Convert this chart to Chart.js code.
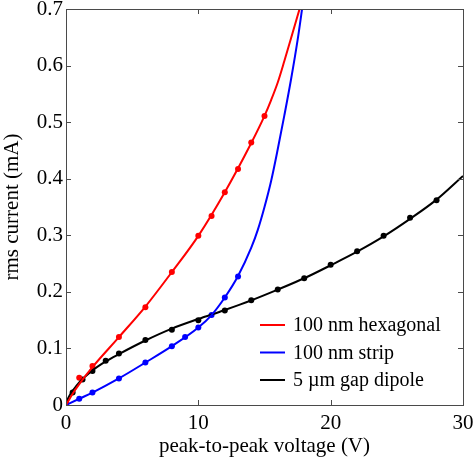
<!DOCTYPE html>
<html>
<head>
<meta charset="utf-8">
<script src="https://cdn.jsdelivr.net/npm/chart.js@4.4.1/dist/chart.umd.min.js"></script>
<style>
  html, body { margin: 0; padding: 0; background: #fff; }
  #wrap { width: 475px; height: 459px; }
</style>
</head>
<body>
<div id="wrap"><canvas id="grafico"></canvas></div>
<script>
// eixos
const xTicks = [0, 10, 20, 30];
const yTicks = [0, 0.1, 0.2, 0.3, 0.4, 0.5, 0.6, 0.7];

// 100 nm hexagonal - medidas
const hexX = [0, 1, 2, 4, 6, 8, 10, 11, 12, 13, 14, 15];
const hexY = [0.004, 0.048, 0.069, 0.12, 0.173, 0.235, 0.299, 0.334, 0.376, 0.417, 0.464, 0.511];
// 100 nm hexagonal - curva ajustada
const hexFitX = [0, 0.5, 1, 2, 4, 6, 8, 10, 12, 14, 15, 15.5, 16, 16.5, 17, 17.5, 17.8];
const hexFitY = [0, 0.02, 0.037, 0.067, 0.12, 0.174, 0.235, 0.299, 0.376, 0.463, 0.511, 0.539, 0.57, 0.608, 0.648, 0.688, 0.712];

// 100 nm strip - medidas
const stripX = [0, 1, 2, 4, 6, 8, 9, 10, 11, 12, 13];
const stripY = [0.002, 0.011, 0.022, 0.047, 0.075, 0.104, 0.12, 0.137, 0.159, 0.19, 0.227];
// 100 nm strip - curva ajustada
const stripFitX = [0, 1, 2, 4, 6, 8, 10, 11, 12, 13, 14, 14.5, 15, 15.5, 16, 16.5, 17, 17.5, 17.9];
const stripFitY = [0, 0.011, 0.022, 0.047, 0.075, 0.104, 0.137, 0.159, 0.19, 0.228, 0.278, 0.31, 0.35, 0.396, 0.452, 0.512, 0.575, 0.645, 0.71];

// 5 um gap dipole - medidas
const dipX = [0, 0.5, 1.25, 2, 3, 4, 6, 8, 10, 12, 14, 16, 18, 20, 22, 24, 26, 28];
const dipY = [0.006, 0.022, 0.045, 0.06, 0.078, 0.091, 0.115, 0.133, 0.15, 0.167, 0.185, 0.204, 0.224, 0.248, 0.272, 0.299, 0.331, 0.362];
// 5 um gap dipole - curva ajustada
const dipFitX = [0, 0.25, 0.5, 1, 2, 3, 4, 6, 8, 10, 12, 14, 16, 18, 20, 22, 24, 26, 28, 30];
const dipFitY = [0.004, 0.016, 0.025, 0.04, 0.061, 0.077, 0.09, 0.114, 0.135, 0.152, 0.168, 0.185, 0.204, 0.224, 0.247, 0.271, 0.298, 0.329, 0.363, 0.405];

const legendas = ['100 nm hexagonal', '100 nm strip', '5 \u00b5m gap dipole'];
const cores = ['#ff0000', '#0000ff', '#000000'];

function pares(xs, ys) {
  return xs.map((x, i) => ({ x: x, y: ys[i] }));
}

function linha(label, xs, ys, cor) {
  return {
    label: label,
    data: pares(xs, ys),
    showLine: true,
    borderColor: cor,
    backgroundColor: cor,
    borderWidth: 2,
    pointRadius: 0,
    cubicInterpolationMode: 'monotone',
    isFit: true
  };
}

function pontos(xs, ys, cor) {
  return {
    label: '',
    data: pares(xs, ys),
    showLine: false,
    borderColor: cor,
    backgroundColor: cor,
    pointRadius: 3,
    pointBorderWidth: 0,
    isFit: false
  };
}

const fonte = 'Liberation Serif, Times New Roman, serif';

// moldura com ticks para dentro nos quatro lados + legenda
const moldura = {
  id: 'moldura',
  afterDatasetsDraw(chart) {
    const { ctx, chartArea: a, scales } = chart;
    ctx.save();
    ctx.strokeStyle = '#4a4a4a';
    ctx.lineWidth = 1;
    ctx.strokeRect(a.left + 0.5, a.top + 0.5, a.right - a.left, a.bottom - a.top);
    const t = 5;
    ctx.beginPath();
    xTicks.forEach(v => {
      const px = Math.round(scales.x.getPixelForValue(v)) + 0.5;
      ctx.moveTo(px, a.bottom); ctx.lineTo(px, a.bottom - t);
      ctx.moveTo(px, a.top); ctx.lineTo(px, a.top + t);
    });
    yTicks.forEach(v => {
      const py = Math.round(scales.y.getPixelForValue(v)) + 0.5;
      ctx.moveTo(a.left, py); ctx.lineTo(a.left + t, py);
      ctx.moveTo(a.right, py); ctx.lineTo(a.right - t, py);
    });
    ctx.stroke();

    const fits = chart.data.datasets.filter(d => d.isFit);
    ctx.font = '20px ' + fonte;
    ctx.textBaseline = 'middle';
    ctx.textAlign = 'left';
    const x0 = 260, y0 = 325, passo = 27.5;
    fits.forEach((d, i) => {
      const y = y0 + i * passo;
      ctx.strokeStyle = d.borderColor;
      ctx.lineWidth = 2;
      ctx.beginPath();
      ctx.moveTo(x0, y);
      ctx.lineTo(x0 + 25, y);
      ctx.stroke();
      ctx.fillStyle = '#000';
      ctx.fillText(d.label, x0 + 33, y + 1);
    });
    ctx.restore();
  }
};

const ctx = document.getElementById('grafico').getContext('2d');
new Chart(ctx, {
  type: 'scatter',
  data: {
    datasets: [
      linha(legendas[0], hexFitX, hexFitY, cores[0]),
      linha(legendas[1], stripFitX, stripFitY, cores[1]),
      linha(legendas[2], dipFitX, dipFitY, cores[2]),
      pontos(hexX, hexY, cores[0]),
      pontos(stripX, stripY, cores[1]),
      pontos(dipX, dipY, cores[2])
    ]
  },
  options: {
    responsive: true,
    maintainAspectRatio: false,
    animation: false,
    layout: { padding: { top: 9, right: 12, left: 0, bottom: 0 } },
    plugins: {
      legend: { display: false },
      tooltip: { enabled: false }
    },
    scales: {
      x: {
        type: 'linear',
        min: 0,
        max: 30,
        grid: { display: false, drawTicks: false },
        border: { display: false },
        afterBuildTicks: s => { s.ticks = xTicks.map(v => ({ value: v })); },
        ticks: { color: '#000', font: { family: fonte, size: 21 }, padding: 6, maxRotation: 0 },
        title: { display: true, text: 'peak-to-peak voltage (V)', color: '#000', font: { family: fonte, size: 21 }, padding: { top: 0, bottom: 0 } },
        afterFit: s => { s.height = 54; s.paddingLeft = 0; s.paddingRight = 0; }
      },
      y: {
        type: 'linear',
        min: 0,
        max: 0.7,
        grid: { display: false, drawTicks: false },
        border: { display: false },
        afterBuildTicks: s => { s.ticks = yTicks.map(v => ({ value: v })); },
        ticks: { color: '#000', font: { family: fonte, size: 21 }, padding: 3 },
        title: { display: true, text: 'rms current (mA)', color: '#000', font: { family: fonte, size: 21 }, padding: { top: 0, bottom: 4 } },
        afterFit: s => { s.width = 66; s.paddingTop = 0; s.paddingBottom = 0; }
      }
    }
  },
  plugins: [moldura]
});
</script>
</body>
</html>
